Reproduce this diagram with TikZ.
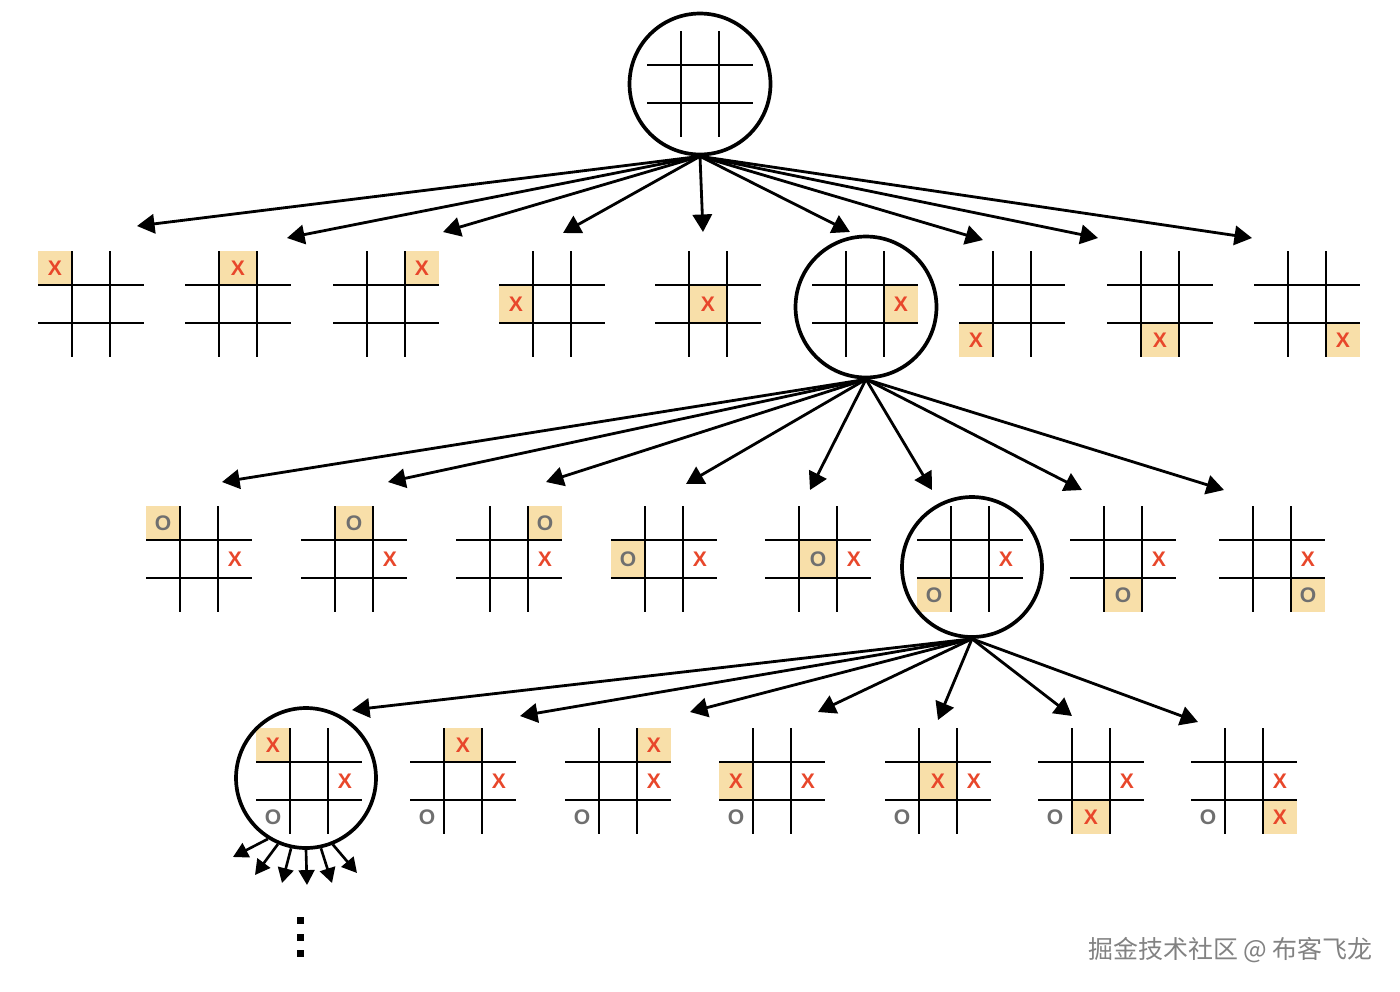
\documentclass[tikz,border=0pt]{standalone}
\usepackage{fontspec}
\setmainfont{Liberation Sans}
\newfontfamily\cjk{Noto Sans CJK SC}
\usetikzlibrary{arrows.meta}
\definecolor{hlc}{HTML}{F8DFA9}
\definecolor{xc}{HTML}{E8472B}
\definecolor{oc}{HTML}{6F6F6F}
\definecolor{wmc}{HTML}{828282}

\newcommand\drawgrid[1]{%
  \begin{scope}[shift={(#1)}]
    \draw[gridline] (-53,-19) -- (53,-19) (-53,19) -- (53,19)
                    (-19,-53) -- (-19,53) (19,-53) -- (19,53);
  \end{scope}}
\newcommand\hlcell[3]{% board, col, row
  \pgfmathsetmacro\hxa{{-53,-19,19}[#2]}%
  \pgfmathsetmacro\hxb{{-19,19,53}[#2]}%
  \pgfmathsetmacro\hya{{-53,-19,19}[#3]}%
  \pgfmathsetmacro\hyb{{-19,19,53}[#3]}%
  \begin{scope}[shift={(#1)}]
    \fill[hlc] (\hxa,\hya) rectangle (\hxb,\hyb);
  \end{scope}}
\newcommand\putX[4]{% name, board, col, row
  \pgfmathsetmacro\mxc{{-36,0,36}[#3]}%
  \pgfmathsetmacro\myc{{-36,0,36}[#4]}%
  \node[xm] (#1) at ([shift={(\mxc,\myc)}]#2) {X};}
\newcommand\putO[4]{%
  \pgfmathsetmacro\mxc{{-36,0,36}[#3]}%
  \pgfmathsetmacro\myc{{-36,0,36}[#4]}%
  \node[om] (#1) at ([shift={(\mxc,\myc)}]#2) {O};}

\begin{document}
\begin{tikzpicture}[x=0.02cm,y=-0.02cm,
  gridline/.style={line width=1.3pt, black},
  bigc/.style={circle, draw, line width=2.1pt, inner sep=0pt, minimum size=2.82cm},
  arr/.style={-{Triangle[length=10pt,width=11pt]}, line width=1.6pt},
  sarr/.style={-{Triangle[length=8.5pt,width=9pt]}, line width=1.5pt},
  xm/.style={text=xc, font=\bfseries\fontsize{12}{12}\selectfont, inner sep=0pt},
  om/.style={text=oc, font=\bfseries\fontsize{12}{12}\selectfont, inner sep=0pt},
  dotsq/.style={rectangle, fill=black, inner sep=0pt, minimum size=0.14cm}]
\fill[white] (0,0) rectangle (1400,991);
\useasboundingbox (0,0) rectangle (1400,991);

% root
\coordinate (b0) at (700,84);
\drawgrid{b0}
\node[bigc] (c0) at (700,84) {};

% row 1
\foreach \n/\x/\c/\r in {1/91/0/0, 2/238/1/0, 3/386/2/0, 4/552/0/1, 5/708/1/1,
                         6/865/2/1, 7/1012/0/2, 8/1160/1/2, 9/1307/2/2}{
  \coordinate (b1\n) at (\x,304);
  \hlcell{b1\n}{\c}{\r}
  \drawgrid{b1\n}
  \putX{x1\n}{b1\n}{\c}{\r}
}
\node[bigc] (c1) at (866,307) {};

% row 2
\foreach \n/\x/\c/\r in {1/199/0/0, 2/354/1/0, 3/509/2/0, 4/664/0/1, 5/818/1/1,
                         6/970/0/2, 7/1123/1/2, 8/1272/2/2}{
  \coordinate (b2\n) at (\x,559);
  \hlcell{b2\n}{\c}{\r}
  \drawgrid{b2\n}
  \putO{o2\n}{b2\n}{\c}{\r}
  \putX{x2\n}{b2\n}{2}{1}
}
\node[bigc, minimum size=2.8cm] (c2) at (972,567) {};

% row 3
\foreach \n/\x/\c/\r in {1/309/0/0, 2/463/1/0, 3/618/2/0, 4/772/0/1, 5/938/1/1,
                         6/1091/1/2, 7/1244/2/2}{
  \coordinate (b3\n) at (\x,781);
  \hlcell{b3\n}{\c}{\r}
  \drawgrid{b3\n}
  \putX{xa3\n}{b3\n}{\c}{\r}
  \putX{xb3\n}{b3\n}{2}{1}
  \putO{o3\n}{b3\n}{0}{2}
}
\node[bigc, minimum size=2.8cm] (c3) at (306,778) {};

% arrows row 1
\foreach \i/\x/\y in {1/137/226, 2/287/238, 3/443/232, 4/563/233, 5/703/232,
                      6/850/232, 7/983/240, 8/1098/238, 9/1252/238}{
  \coordinate (t1\i) at (\x,\y);
  \draw[arr] (c0.south) -- (t1\i);
}
% arrows row 2
\foreach \i/\x/\y in {1/222/482, 2/388/482, 3/546/482, 4/686/484, 5/810/490,
                      6/932/490, 7/1082/490, 8/1224/490}{
  \coordinate (t2\i) at (\x,\y);
  \draw[arr] (c1.south) -- (t2\i);
}
% arrows row 3
\foreach \i/\x/\y in {1/352/710, 2/520/716, 3/690/712, 4/818/712, 5/938/720,
                      6/1072/716, 7/1198/722}{
  \coordinate (t3\i) at (\x,\y);
  \draw[arr] (c2.south) -- (t3\i);
}
% small arrows
\foreach \i/\a/\x/\y in {1/238/233/857, 2/247/255/875, 3/258/282/883,
                         4/270/307/885, 5/282/332/883, 6/292/357/873}{
  \coordinate (s\i) at (\x,\y);
  \draw[sarr] (c3.\a) -- (s\i);
}
% dots
\foreach \i/\y in {1/920, 2/937, 3/953}{
  \node[dotsq] (d\i) at (300,\y) {};
}
% watermark
\node[font=\cjk\fontsize{14.2}{14.2}\selectfont, text=wmc, anchor=east, inner sep=0pt]
  (wm) at (1373,950) {掘金技术社区 @ 布客飞龙};
\end{tikzpicture}
\end{document}
